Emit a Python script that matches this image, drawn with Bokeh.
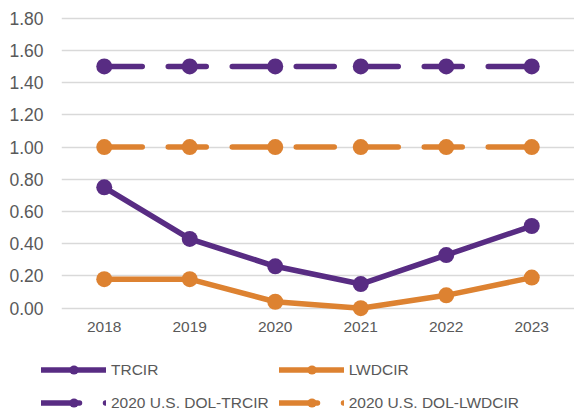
from bokeh.plotting import figure
from bokeh.layouts import column
from bokeh.models import (Legend, LegendItem, FixedTicker, NumeralTickFormatter,
                          Range1d, FactorRange, ColumnDataSource)
from bokeh.embed import file_html
from bokeh.resources import INLINE

years = ["2018", "2019", "2020", "2021", "2022", "2023"]
trcir = [0.75, 0.43, 0.26, 0.15, 0.33, 0.51]
lwdcir = [0.18, 0.18, 0.04, 0.00, 0.08, 0.19]
dol_trcir = [1.50, 1.50, 1.50, 1.50, 1.50, 1.50]
dol_lwdcir = [1.00, 1.00, 1.00, 1.00, 1.00, 1.00]
y_ticks = [0.0, 0.2, 0.4, 0.6, 0.8, 1.0, 1.2, 1.4, 1.6, 1.8]
series_labels = ["TRCIR", "LWDCIR", "2020 U.S. DOL-TRCIR", "2020 U.S. DOL-LWDCIR"]

PURPLE = "#582C83"
ORANGE = "#DD8231"
TEXT = "#595959"
FONT = "Liberation Sans"

src = ColumnDataSource(dict(year=years, trcir=trcir, lwdcir=lwdcir,
                            dol_trcir=dol_trcir, dol_lwdcir=dol_lwdcir))

p = figure(x_range=FactorRange(factors=years), y_range=Range1d(-0.07, 1.81),
           width=574, height=345, output_backend="svg", toolbar_location=None,
           min_border_left=61, min_border_right=0, min_border_top=16, min_border_bottom=26)
p.frame_align = False
p.outline_line_color = None
p.background_fill_color = "white"
p.border_fill_color = "white"

p.yaxis.ticker = FixedTicker(ticks=y_ticks)
p.yaxis.formatter = NumeralTickFormatter(format="0.00")
for ax in (p.xaxis[0], p.yaxis[0]):
    ax.axis_line_color = None
    ax.major_tick_line_color = None
    ax.minor_tick_line_color = None
    ax.major_tick_out = 0
    ax.major_tick_in = 0
    ax.major_label_text_color = TEXT
    ax.major_label_text_font = FONT
p.yaxis.major_label_text_font_size = "17.5px"
p.yaxis.major_label_standoff = 18
p.xaxis.major_label_text_font_size = "15.5px"
p.xaxis.major_label_standoff = 2

p.xgrid.grid_line_color = None
p.ygrid.grid_line_color = "#D9D9D9"
p.ygrid.grid_line_width = 1.5

LW = 5.5
MS = 16
DASH = "38 26"

line_styles = [
    dict(col="trcir", color=PURPLE, dash="solid"),
    dict(col="lwdcir", color=ORANGE, dash="solid"),
    dict(col="dol_trcir", color=PURPLE, dash=DASH),
    dict(col="dol_lwdcir", color=ORANGE, dash=DASH),
]

# draw dashed benchmark lines first, then the series
for st in line_styles[2:] + line_styles[:2][::-1]:
    p.line("year", st["col"], source=src, line_color=st["color"], line_width=LW,
           line_dash=st["dash"], line_cap="round", line_join="round")
    p.scatter("year", st["col"], source=src, size=MS, fill_color=st["color"], line_color=None)

# legend strip: a second figure whose y-range lies outside the data, so only the legend shows
lg = figure(width=574, height=65, x_range=FactorRange(factors=years), y_range=Range1d(10, 11),
            output_backend="svg", toolbar_location=None, x_axis_type=None, y_axis_type=None,
            min_border_left=0, min_border_right=0, min_border_top=0, min_border_bottom=0)
lg.frame_align = False
lg.grid.grid_line_color = None
lg.outline_line_color = None
lg.border_fill_color = "white"

items = {}
for st, lab in zip(line_styles, series_labels):
    r1 = lg.line("year", st["col"], source=src, line_color=st["color"], line_width=LW,
                 line_dash=st["dash"], line_cap="round", line_join="round")
    r2 = lg.scatter("year", st["col"], source=src, size=10, fill_color=st["color"], line_color=None)
    items[lab] = LegendItem(label=lab, renderers=[r1, r2])

# column-major fill: first column TRCIR / DOL-TRCIR, second LWDCIR / DOL-LWDCIR
order = [series_labels[0], series_labels[2], series_labels[1], series_labels[3]]
legend = Legend(items=[items[k] for k in order], ncols=2, location=(41, -4),
                padding=0, margin=0, spacing=10, glyph_width=65, glyph_height=23,
                label_height=23, label_width=150, label_standoff=5,
                label_text_font=FONT, label_text_font_size="15.5px",
                label_text_color=TEXT, border_line_color=None,
                background_fill_alpha=0)
lg.add_layout(legend)

layout = column(p, lg, spacing=0)
open("out.html", "w").write(file_html(layout, INLINE))
